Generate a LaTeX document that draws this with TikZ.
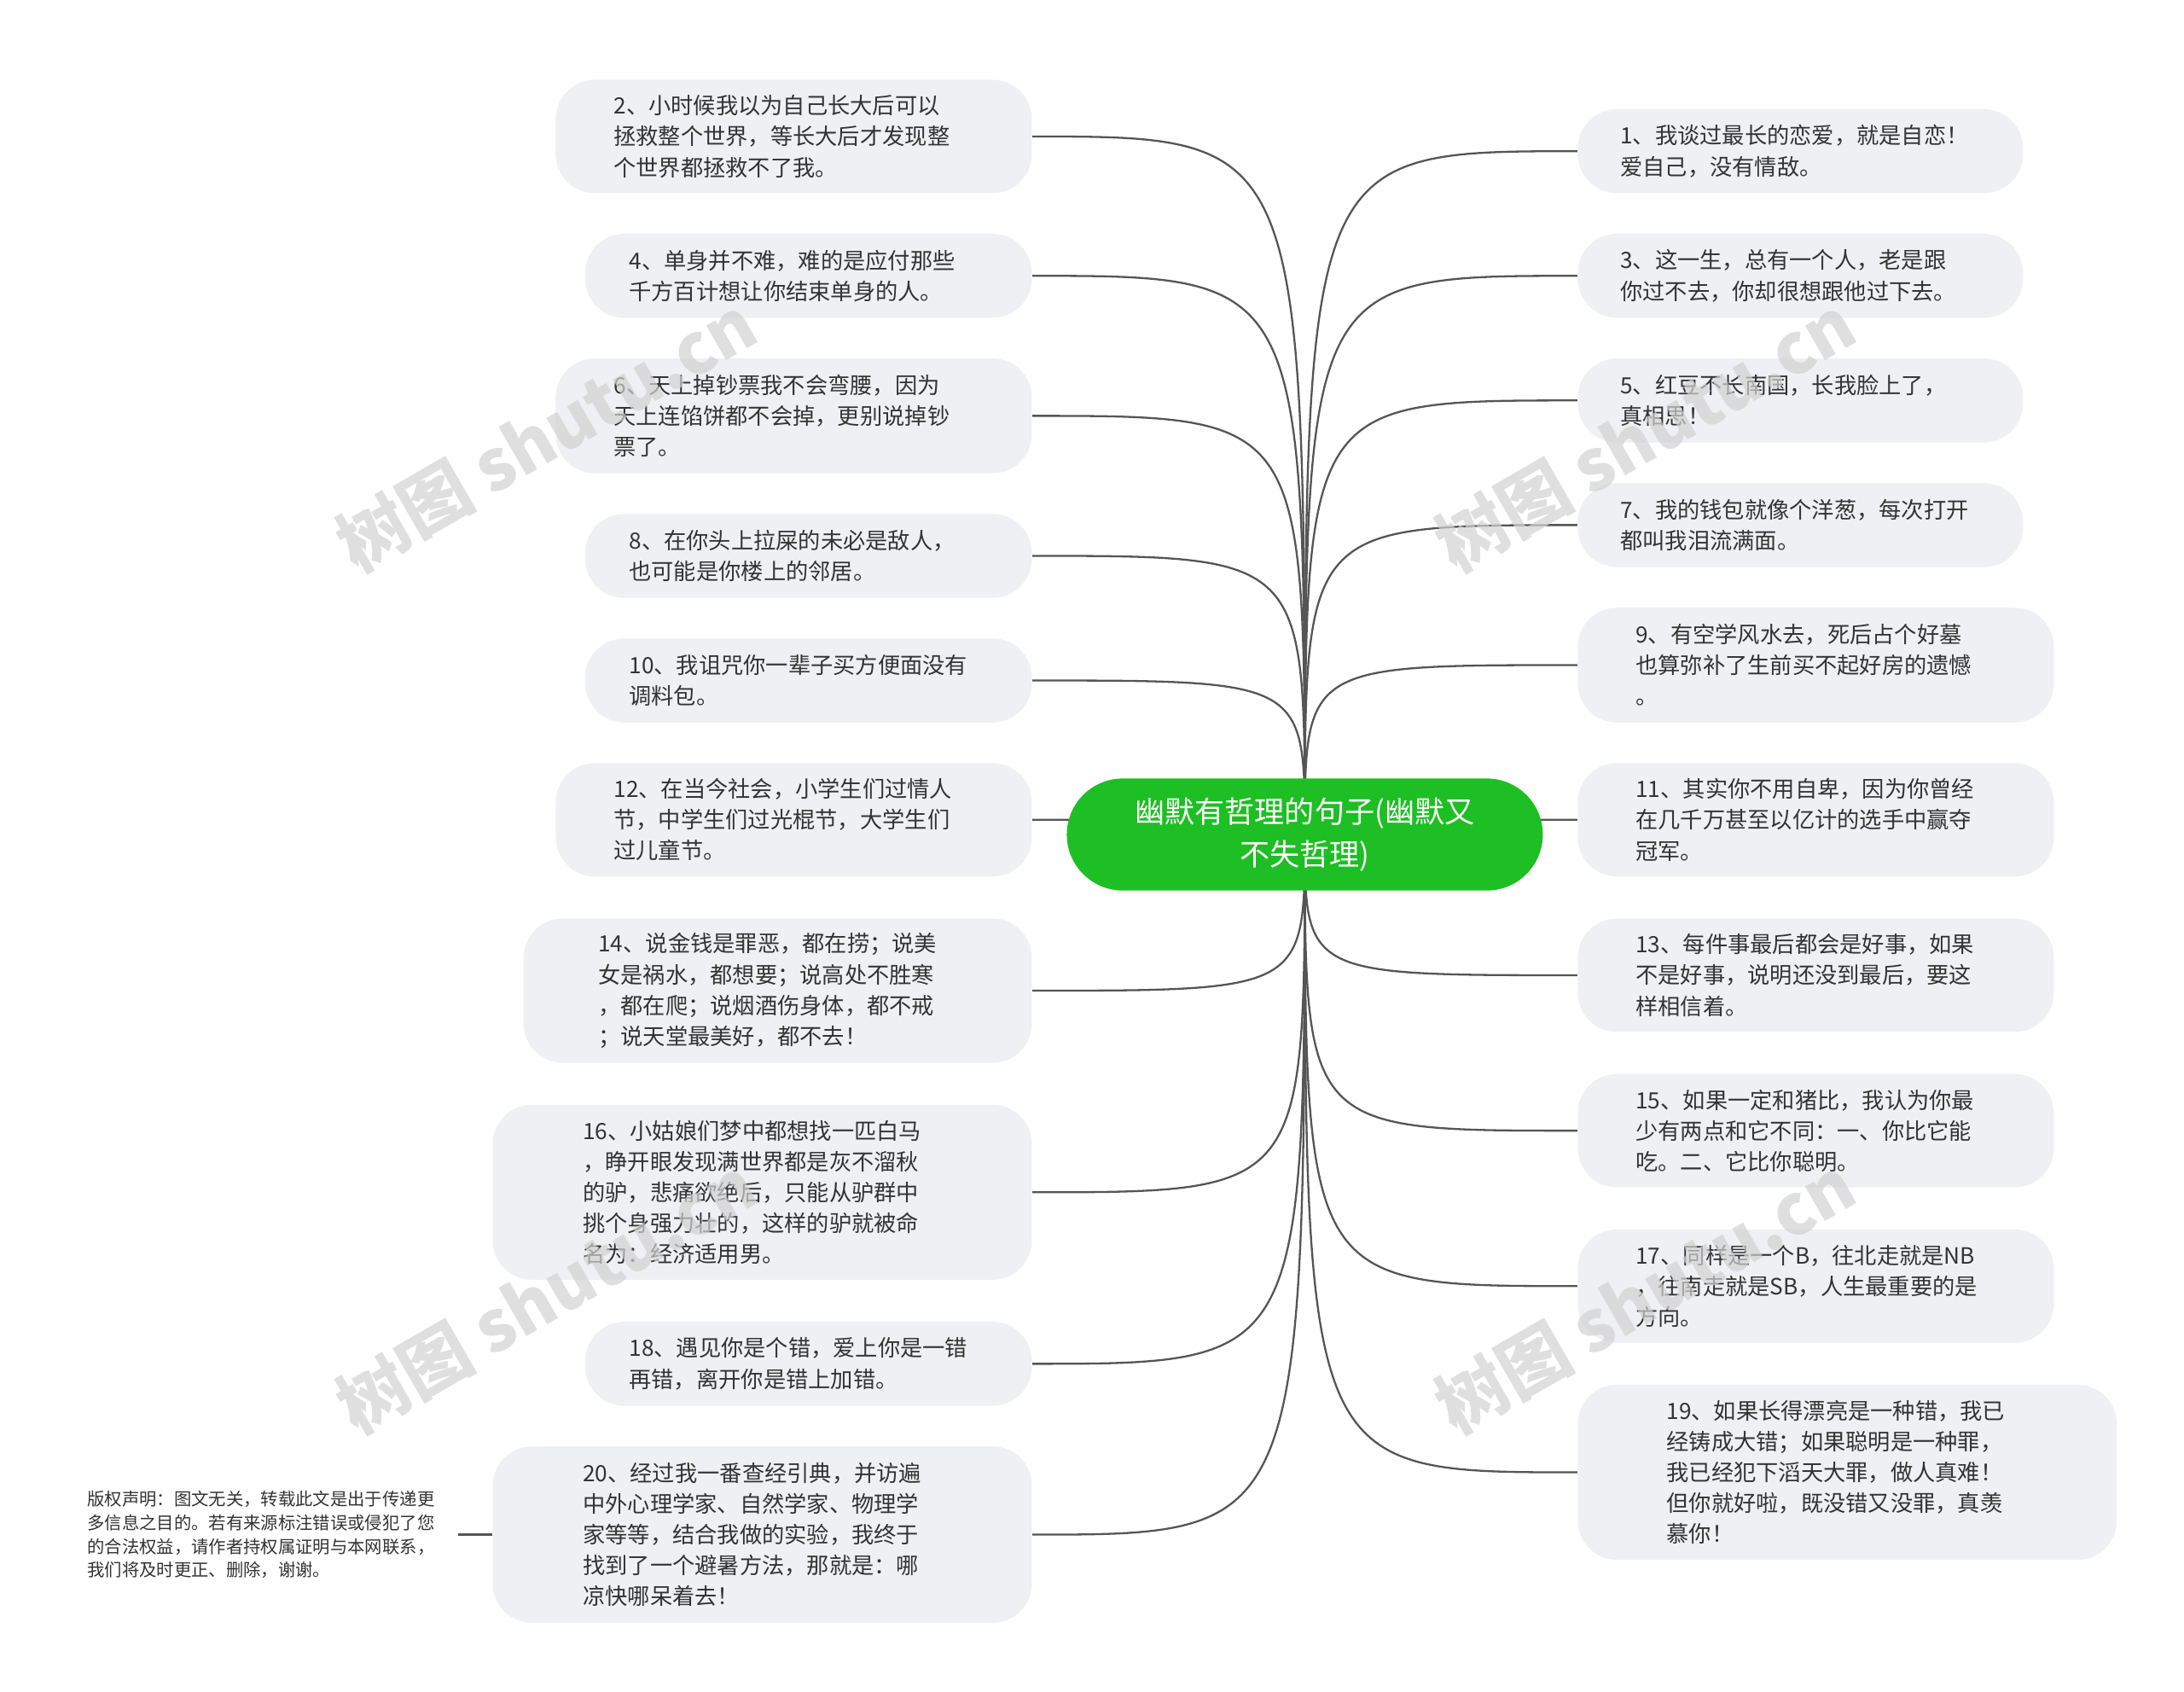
\documentclass[tikz,border=0pt]{standalone}
\usepackage{fontspec}
\setmainfont{Noto Sans CJK SC}
\definecolor{boxc}{HTML}{EEF0F3}
\definecolor{txt}{HTML}{333333}
\definecolor{lnc}{HTML}{555555}
\definecolor{grn}{HTML}{1DBF24}
\tikzset{
  boxs/.style={fill=boxc,draw=none,rounded corners=14pt,inner sep=0},
  tx/.style={anchor=west,align=left,text=txt,font=\fontsize{8}{11}\selectfont,inner sep=0},
  conn/.style={draw=lnc,line width=0.7pt},
  wm/.style={text=gray!35,font=\fontsize{25}{25}\selectfont\bfseries,rotate=30,opacity=0.7}
}
\newcommand{\bx}[7]{%
  \node[boxs,minimum width={(#4-#2)*0.5pt},minimum height={(#5-#3)*0.5pt}] (#1) at ({(#2+#4)/2},{(#3+#5)/2}) {};
  \node[tx] at (#6,{(#3+#5)/2}) {#7};}
\begin{document}
\begin{tikzpicture}[x=0.5pt,y=-0.5pt]
\useasboundingbox (0,0) rectangle (1560,1208);
\fill[white] (0,0) rectangle (1560,1208);
\coordinate (c) at (932,596);
% left
\bx{L2}{397}{57}{737}{138}{438}{2、小时候我以为自己长大后可以\\拯救整个世界，等长大后才发现整\\个世界都拯救不了我。}
\bx{L4}{418}{167}{737}{227}{449}{4、单身并不难，难的是应付那些\\千方百计想让你结束单身的人。}
\bx{L6}{397}{256}{737}{338}{438}{6、天上掉钞票我不会弯腰，因为\\天上连馅饼都不会掉，更别说掉钞\\票了。}
\bx{L8}{418}{367}{737}{427}{449}{8、在你头上拉屎的未必是敌人，\\也可能是你楼上的邻居。}
\bx{L10}{418}{456}{737}{516}{449}{10、我诅咒你一辈子买方便面没有\\调料包。}
\bx{L12}{397}{545}{737}{626}{438}{12、在当今社会，小学生们过情人\\节，中学生们过光棍节，大学生们\\过儿童节。}
\bx{L14}{374}{656}{737}{759}{427}{14、说金钱是罪恶，都在捞；说美\\女是祸水，都想要；说高处不胜寒\\，都在爬；说烟酒伤身体，都不戒\\；说天堂最美好，都不去！}
\bx{L16}{352}{789}{737}{914}{416}{16、小姑娘们梦中都想找一匹白马\\，睁开眼发现满世界都是灰不溜秋\\的驴，悲痛欲绝后，只能从驴群中\\挑个身强力壮的，这样的驴就被命\\名为：经济适用男。}
\bx{L18}{418}{944}{737}{1004}{449}{18、遇见你是个错，爱上你是一错\\再错，离开你是错上加错。}
\bx{L20}{352}{1033}{737}{1159}{416}{20、经过我一番查经引典，并访遍\\中外心理学家、自然学家、物理学\\家等等，结合我做的实验，我终于\\找到了一个避暑方法，那就是：哪\\凉快哪呆着去！}
% right
\bx{R1}{1127}{78}{1445}{138}{1157}{1、我谈过最长的恋爱，就是自恋！\\爱自己，没有情敌。}
\bx{R3}{1127}{167}{1445}{227}{1157}{3、这一生，总有一个人，老是跟\\你过不去，你却很想跟他过下去。}
\bx{R5}{1127}{256}{1445}{316}{1157}{5、红豆不长南国，长我脸上了，\\真相思！}
\bx{R7}{1127}{345}{1445}{405}{1157}{7、我的钱包就像个洋葱，每次打开\\都叫我泪流满面。}
\bx{R9}{1127}{434}{1467}{516}{1168}{9、有空学风水去，死后占个好墓\\也算弥补了生前买不起好房的遗憾\\。}
\bx{R11}{1127}{545}{1467}{626}{1168}{11、其实你不用自卑，因为你曾经\\在几千万甚至以亿计的选手中赢夺\\冠军。}
\bx{R13}{1127}{656}{1467}{737}{1168}{13、每件事最后都会是好事，如果\\不是好事，说明还没到最后，要这\\样相信着。}
\bx{R15}{1127}{767}{1467}{848}{1168}{15、如果一定和猪比，我认为你最\\少有两点和它不同：一、你比它能\\吃。二、它比你聪明。}
\bx{R17}{1127}{878}{1467}{959}{1168}{17、同样是一个B，往北走就是NB\\，往南走就是SB，人生最重要的是\\方向。}
\bx{R19}{1127}{989}{1512}{1114}{1190}{19、如果长得漂亮是一种错，我已\\经铸成大错；如果聪明是一种罪，\\我已经犯下滔天大罪，做人真难！\\但你就好啦，既没错又没罪，真羡\\慕你！}
% connectors
\foreach \n in {L2,L4,L6,L8,L10,L12,L14,L16,L18,L20}{
  \draw[conn] (c) .. controls (c |- \n.east) .. (\n.east);}
\foreach \n in {R1,R3,R5,R7,R9,R11,R13,R15,R17,R19}{
  \draw[conn] (c) .. controls (c |- \n.west) .. (\n.west);}
% center
\node[fill=grn,rounded corners=20pt,minimum width=170pt,minimum height=40pt,align=center,text=white,font=\fontsize{10.7}{15}\selectfont] (center) at (c) {幽默有哲理的句子(幽默又\\不失哲理)};
% copyright
\node[anchor=west,align=left,text=txt,font=\fontsize{6.2}{8.5}\selectfont,inner sep=0] (cp) at (62,1096) {版权声明：图文无关，转载此文是出于传递更\\多信息之目的。若有来源标注错误或侵犯了您\\的合法权益，请作者持权属证明与本网联系，\\我们将及时更正、删除，谢谢。};
\coordinate (cpe) at (327,1096);
\draw[conn] (cpe) -- (L20.west);
% watermarks
\node[wm] at (390,310) {树图 shutu.cn};
\node[wm] at (1175,310) {树图 shutu.cn};
\node[wm] at (390,925) {树图 shutu.cn};
\node[wm] at (1175,925) {树图 shutu.cn};
\end{tikzpicture}
\end{document}
